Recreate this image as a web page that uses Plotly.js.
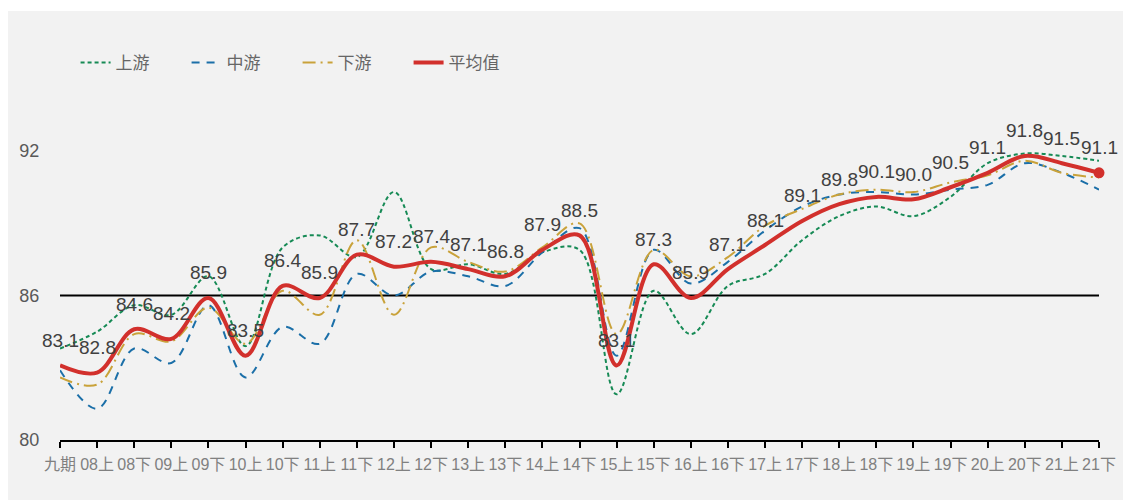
<!DOCTYPE html>
<html>
<head>
<meta charset="utf-8">
<script src="https://cdn.plot.ly/plotly-3.0.1.min.js"></script>
<style>
  html, body { margin: 0; padding: 0; background: #ffffff; }
  #chart { position: absolute; left: 8px; top: 11px; width: 1115px; height: 489px; }
</style>
</head>
<body>
<div id="chart"></div>
<script>
const categories = ['九期','08上','08下','09上','09下','10上','10下','11上','11下','12上','12下','13上','13下','14上','14下','15上','15下','16上','16下','17上','17下','18上','18下','19上','19下','20上','20下','21上','21下'];

const upstream   = [83.8, 84.5, 85.6, 85.2, 86.8, 83.9, 88.0, 88.5, 87.6, 90.3, 87.1, 87.3, 86.9, 87.8, 87.9, 81.9, 86.2, 84.4, 86.4, 86.9, 88.3, 89.3, 89.7, 89.3, 90.1, 91.5, 91.9, 91.8, 91.6];
const midstream  = [82.9, 81.3, 83.8, 83.2, 85.6, 82.6, 84.7, 84.0, 86.9, 86.0, 87.0, 86.8, 86.4, 87.8, 88.8, 83.5, 87.9, 86.5, 87.4, 88.7, 89.7, 90.2, 90.3, 90.2, 90.4, 90.6, 91.5, 91.1, 90.4];
const downstream = [82.6, 82.3, 84.4, 84.1, 85.5, 84.0, 86.2, 85.2, 88.3, 85.2, 88.0, 87.4, 87.0, 88.0, 89.0, 84.4, 87.9, 86.8, 87.6, 88.9, 89.6, 90.2, 90.4, 90.3, 90.7, 91.0, 91.6, 91.1, 90.9];
const average    = [83.1, 82.8, 84.6, 84.2, 85.9, 83.5, 86.4, 85.9, 87.7, 87.2, 87.4, 87.1, 86.8, 87.9, 88.5, 83.1, 87.3, 85.9, 87.1, 88.1, 89.1, 89.8, 90.1, 90.0, 90.5, 91.1, 91.8, 91.5, 91.1];

const seriesNames = ['上游', '中游', '下游', '平均值'];
const yTicks = [80, 86, 92];
const baseline = 86;

const FONT = '"Liberation Sans", Arial, "Noto Sans CJK SC", sans-serif';

const traces = [
  { x: categories, y: upstream, name: seriesNames[0], mode: 'lines',
    line: { color: '#168a55', width: 2, dash: '4px,3px', shape: 'spline', smoothing: 1 } },
  { x: categories, y: midstream, name: seriesNames[1], mode: 'lines',
    line: { color: '#1b6fa8', width: 2, dash: '8px,7px', shape: 'spline', smoothing: 1 } },
  { x: categories, y: downstream, name: seriesNames[2], mode: 'lines',
    line: { color: '#c9a23a', width: 2, dash: '13px,5px,2px,5px', shape: 'spline', smoothing: 1 } },
  { x: categories, y: average, name: seriesNames[3], mode: 'lines',
    line: { color: '#d2302c', width: 4, shape: 'spline', smoothing: 1 } },
  { x: [categories[categories.length - 1]], y: [average[average.length - 1]], mode: 'markers',
    showlegend: false, hoverinfo: 'skip', cliponaxis: false,
    marker: { color: '#d2302c', size: 11 } }
];

const annotations = average.map((v, i) => ({
  x: categories[i], y: v, xref: 'x', yref: 'y',
  text: v.toFixed(1), showarrow: false, yshift: 25,
  font: { family: FONT, size: 19, color: '#404040' }
}));

const layout = {
  width: 1115, height: 489,
  paper_bgcolor: '#f2f2f2', plot_bgcolor: '#f2f2f2',
  margin: { l: 52, r: 24, t: 92, b: 60 },
  font: { family: FONT, color: '#595959' },
  showlegend: true,
  legend: {
    orientation: 'h', x: 0.015, xanchor: 'left', y: 1.119, yanchor: 'middle',
    font: { family: FONT, size: 17, color: '#666666' },
    entrywidth: 66, entrywidthmode: 'pixels', bgcolor: 'rgba(0,0,0,0)'
  },
  xaxis: {
    type: 'category', range: [0, categories.length - 1],
    showgrid: false, zeroline: false,
    showline: true, linecolor: '#000000', linewidth: 2,
    ticks: 'outside', ticklen: 6, tickcolor: '#000000', tickwidth: 2,
    tickfont: { family: FONT, size: 16, color: '#808080' },
    ticklabelstandoff: 3
  },
  yaxis: {
    range: [80, 94], tickvals: yTicks, ticktext: yTicks.map(String),
    showgrid: false, zeroline: false, showline: false,
    ticks: 'outside', ticklen: 16, tickcolor: 'rgba(0,0,0,0)',
    tickfont: { family: FONT, size: 18, color: '#595959' }
  },
  shapes: [{
    type: 'line', xref: 'paper', x0: 0, x1: 1, yref: 'y', y0: baseline, y1: baseline,
    line: { color: '#000000', width: 2 }, layer: 'below'
  }],
  annotations: annotations
};

Plotly.newPlot('chart', traces, layout, { displayModeBar: false, staticPlot: true });
</script>
</body>
</html>
